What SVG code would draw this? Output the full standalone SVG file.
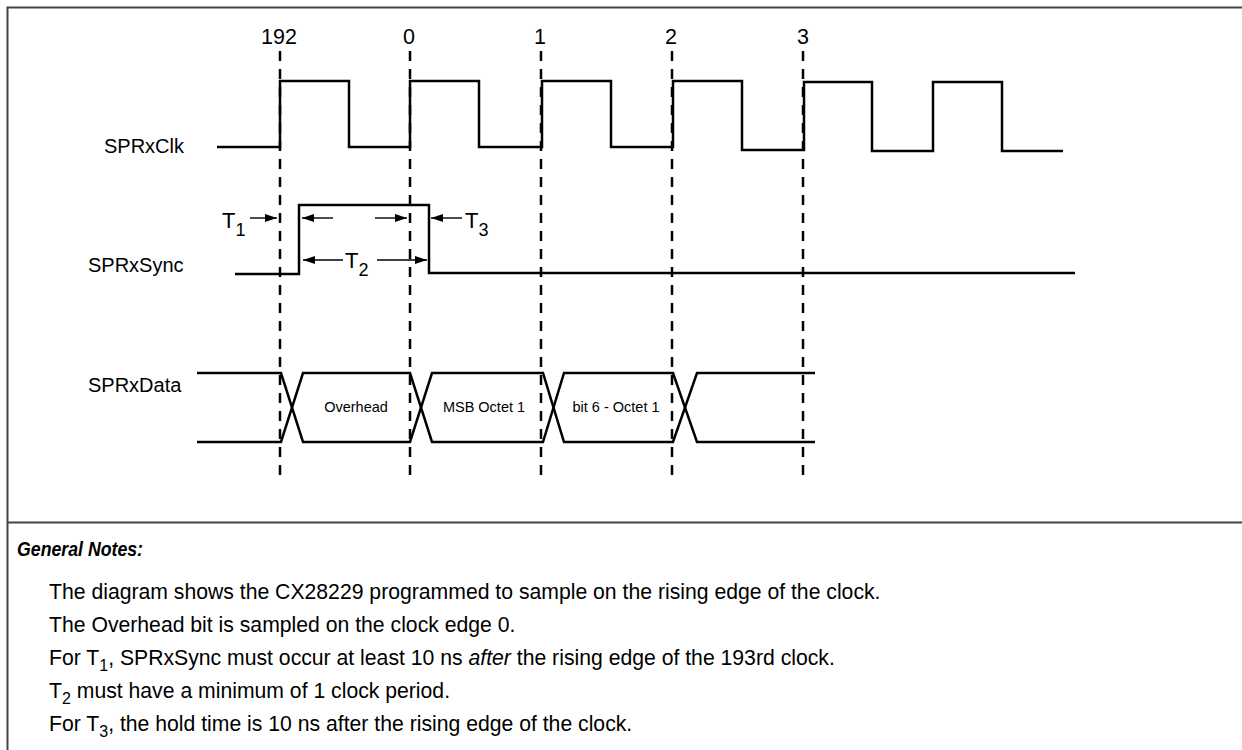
<svg xmlns="http://www.w3.org/2000/svg" width="1242" height="750" viewBox="0 0 1242 750">
<style>
text{font-family:"Liberation Sans",Arial,sans-serif;fill:#000}
.lbl{font-size:20px}
.tl{font-size:22px}
.num{font-size:21.5px;text-anchor:middle}
.bus{font-size:14.5px;text-anchor:middle}
.note{font-size:21.2px}
.sig{fill:none;stroke:#000;stroke-width:2.5;stroke-linejoin:miter}
.dash{fill:none;stroke:#000;stroke-width:2.5;stroke-dasharray:10 8}
.arr{fill:none;stroke:#000;stroke-width:1.4}
.frame{fill:none;stroke:#444;stroke-width:2}
</style>
<defs>
<marker id="ah" viewBox="0 0 12 8" refX="12" refY="4" markerWidth="12" markerHeight="8" markerUnits="userSpaceOnUse" orient="auto">
<path d="M0,0 L12,4 L0,8 Z" fill="#000"/>
</marker>
</defs>
<rect width="1242" height="750" fill="#fff"/>
<g id="frame">
<path class="frame" d="M7.5,760 V7.5 H1250"/>
<path class="frame" d="M7.5,522.5 H1250"/>
</g>
<g id="edge-labels">
<text class="num" x="279" y="44">192</text>
<text class="num" x="409" y="44">0</text>
<text class="num" x="540" y="44">1</text>
<text class="num" x="671" y="44">2</text>
<text class="num" x="803" y="44">3</text>
</g>
<g id="edges">
<path class="dash" d="M280,51 V482"/>
<path class="dash" d="M410,51 V482"/>
<path class="dash" d="M541,51 V482"/>
<path class="dash" d="M672,51 V482"/>
<path class="dash" d="M803,51 V482"/>
</g>
<g id="SPRxClk">
<text class="lbl" x="104" y="153">SPRxClk</text>
<path class="sig" d="M217,147 H280 V81 H349 V147 H410 V81 H479 V147 H542 V81 H611 V147 H673 V81 H742 V150 H804 V82 H872 V151 H933 V82 H1002 V151 H1063"/>
</g>
<g id="SPRxSync">
<text class="lbl" x="88" y="272">SPRxSync</text>
<path class="sig" d="M235,274 H299 V205 H429 V273 H1075"/>
</g>
<g id="SPRxData">
<text class="lbl" x="88" y="392">SPRxData</text>
<path class="sig" d="M197,373 H281 L303,442 H410 L432,373 H543 L564,442 H673 L697,373 H815"/>
<path class="sig" d="M197,442 H281 L303,373 H410 L432,442 H543 L564,373 H673 L697,442 H815"/>
<text class="bus" x="356" y="412">Overhead</text>
<text class="bus" x="484" y="412">MSB Octet 1</text>
<text class="bus" x="616" y="412">bit 6 - Octet 1</text>
</g>
<g id="connectors">
<line class="arr" x1="250" y1="218" x2="277" y2="218" marker-end="url(#ah)"/>
<line class="arr" x1="333" y1="218" x2="302" y2="218" marker-end="url(#ah)"/>
<line class="arr" x1="375" y1="218" x2="407" y2="218" marker-end="url(#ah)"/>
<line class="arr" x1="462" y1="218" x2="431" y2="218" marker-end="url(#ah)"/>
<line class="arr" x1="343" y1="260" x2="303" y2="260" marker-end="url(#ah)"/>
<line class="arr" x1="377" y1="260" x2="427" y2="260" marker-end="url(#ah)"/>
</g>
<g id="timing-labels">
<text class="tl" x="222" y="228">T<tspan font-size="18" dy="8">1</tspan></text>
<text class="tl" x="465" y="228">T<tspan font-size="18" dy="8">3</tspan></text>
<text class="tl" x="345" y="268">T<tspan font-size="18" dy="8">2</tspan></text>
</g>
<g id="notes">
<text x="17" y="556" textLength="126" lengthAdjust="spacingAndGlyphs" style="font-size:19.5px;font-style:italic;font-weight:bold">General Notes:</text>
<text class="note" x="49" y="599">The diagram shows the CX28229 programmed to sample on the rising edge of the clock.</text>
<text class="note" x="49" y="632">The Overhead bit is sampled on the clock edge 0.</text>
<text class="note" x="49" y="665">For T<tspan font-size="16" dy="6">1</tspan><tspan dy="-6">, SPRxSync must occur at least 10 ns </tspan><tspan font-style="italic">after</tspan> the rising edge of the 193rd clock.</text>
<text class="note" x="49" y="698">T<tspan font-size="16" dy="6">2</tspan><tspan dy="-6"> must have a minimum of 1 clock period.</tspan></text>
<text class="note" x="49" y="731">For T<tspan font-size="16" dy="6">3</tspan><tspan dy="-6">, the hold time is 10 ns after the rising edge of the clock.</tspan></text>
</g>
</svg>
